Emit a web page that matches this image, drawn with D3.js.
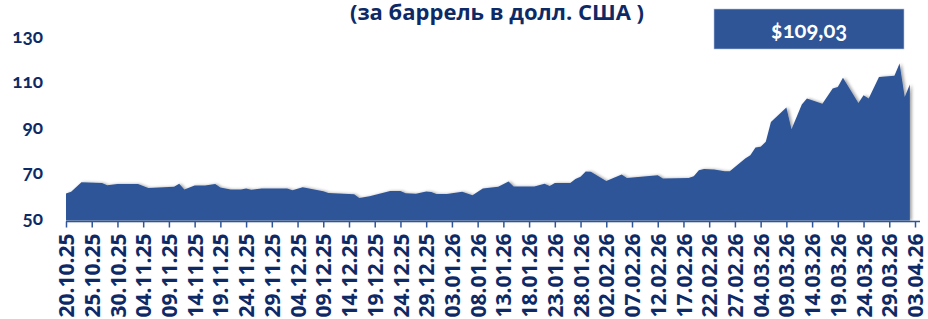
<!DOCTYPE html>
<html lang="ru">
<head>
  <meta charset="UTF-8">
  <title>Цена нефти</title>
  <script src="https://d3js.org/d3.v7.min.js"></script>
  <style>
    body { margin: 0; background: #fff; font-family: "Open Sans", Lato, sans-serif; }
    .lbl { fill: #0e2a66; font-weight: bold; }
  </style>
</head>
<body>
  <div id="chart"></div>
  <script>
    // даты торговых дней и цена (долл. за баррель)
    const dates = [
      "20.10.25","21.10.25","23.10.25","27.10.25","28.10.25","30.10.25","03.11.25","05.11.25",
      "10.11.25","11.11.25","12.11.25","14.11.25","16.11.25","18.11.25","19.11.25","21.11.25",
      "23.11.25","24.11.25","25.11.25","27.11.25","02.12.25","03.12.25","05.12.25","09.12.25",
      "10.12.25","14.12.25","15.12.25","16.12.25","18.12.25","22.12.25","24.12.25","25.12.25",
      "27.12.25","29.12.25","30.12.25","31.12.25","02.01.26","05.01.26","07.01.26","09.01.26",
      "12.01.26","14.01.26","15.01.26","19.01.26","21.01.26","22.01.26","23.01.26","26.01.26",
      "27.01.26","28.01.26","29.01.26","30.01.26","02.02.26","05.02.26","06.02.26","12.02.26",
      "13.02.26","18.02.26","19.02.26","20.02.26","21.02.26","23.02.26","25.02.26","26.02.26",
      "01.03.26","02.03.26","03.03.26","04.03.26","05.03.26","06.03.26","09.03.26","10.03.26",
      "12.03.26","13.03.26","16.03.26","18.03.26","19.03.26","20.03.26","23.03.26","24.03.26",
      "25.03.26","27.03.26","30.03.26","31.03.26","01.04.26","02.04.26"
    ];
    const prices = [
      61.9, 62.6, 66.8, 66.5, 65.5, 66.0, 66.0, 64.3,
      64.8, 66.1, 63.6, 65.4, 65.4, 66.0, 64.5, 63.6,
      63.6, 64.1, 63.5, 64.1, 64.1, 63.3, 64.6, 62.9,
      62.1, 61.6, 61.5, 59.9, 60.7, 63.0, 63.0, 62.0,
      61.8, 62.7, 62.5, 61.7, 61.7, 62.6, 61.1, 64.1,
      64.8, 67.1, 64.9, 64.9, 66.1, 65.2, 66.5, 66.5,
      68.2, 69.2, 71.5, 71.4, 67.4, 70.2, 68.7, 69.9,
      68.5, 68.7, 69.5, 72.1, 72.6, 72.4, 71.7, 71.7,
      77.2, 78.7, 82.1, 82.4, 84.6, 93.3, 99.7, 90.1,
      101.0, 103.6, 101.3, 108.0, 108.7, 112.8, 101.7, 105.1,
      103.6, 113.1, 113.6, 119.0, 104.3, 109.8
    ];
    const tickLabels = [
      "20.10.25","25.10.25","30.10.25","04.11.25","09.11.25","14.11.25","19.11.25","24.11.25",
      "29.11.25","04.12.25","09.12.25","14.12.25","19.12.25","24.12.25","29.12.25","03.01.26",
      "08.01.26","13.01.26","18.01.26","23.01.26","28.01.26","02.02.26","07.02.26","12.02.26",
      "17.02.26","22.02.26","27.02.26","04.03.26","09.03.26","14.03.26","19.03.26","24.03.26",
      "29.03.26","03.04.26"
    ];
    const yTicks = [50, 70, 90, 110, 130];
    const subtitle = "(за баррель в долл. США )";
    const lastPrice = "$109,03";

    const W = 928, H = 319;
    const parse = d3.timeParse("%d.%m.%y");
    const data = dates.map((d, i) => ({ date: parse(d), value: prices[i] }));
    const tickDates = tickLabels.map(parse);

    const svg = d3.select("#chart")
      .append("svg")
      .attr("width", W)
      .attr("height", H);

    const defs = svg.append("defs");
    const f = defs.append("filter").attr("id", "shadow")
      .attr("x", "-5%").attr("y", "-20%").attr("width", "110%").attr("height", "140%");
    f.append("feDropShadow")
      .attr("dx", 2).attr("dy", 0).attr("stdDeviation", 1.6)
      .attr("flood-color", "#000").attr("flood-opacity", 0.35);

    const x = d3.scaleTime()
      .domain([tickDates[0], tickDates[tickDates.length - 1]])
      .range([66, 915]);

    const y = d3.scaleLinear()
      .domain([50, 130])
      .range([220.5, 38.5]);

    // заголовок (верхняя строка обрезана)
    svg.append("text")
      .attr("class", "lbl")
      .attr("x", 497)
      .attr("y", 20)
      .attr("text-anchor", "middle")
      .style("font-size", "22px")
      .text(subtitle);

    // область
    const area = d3.area()
      .x(d => x(d.date))
      .y0(y(50))
      .y1(d => y(d.value));

    svg.append("path")
      .datum(data)
      .attr("d", area)
      .attr("fill", "#2f5597")
      .attr("filter", "url(#shadow)");

    // ось X
    const xAxis = svg.append("g")
      .attr("transform", `translate(0,${y(50) + 1})`)
      .call(d3.axisBottom(x)
        .tickValues(tickDates)
        .tickFormat(d3.timeFormat("%d.%m.%y"))
        .tickSize(6)
        .tickSizeOuter(0));
    xAxis.select(".domain").attr("d", `M66,0H920`).attr("stroke", "#2f5597").attr("stroke-width", 1.5);
    xAxis.selectAll(".tick line").attr("stroke", "#2f5597").attr("stroke-width", 1.5);
    xAxis.selectAll(".tick text")
      .attr("class", "lbl")
      .attr("transform", "rotate(-90)")
      .attr("x", -12)
      .attr("y", 0)
      .attr("dy", "0.36em")
      .attr("text-anchor", "end")
      .style("font-size", "21px")
      .style("font-family", "'Open Sans', sans-serif");

    // ось Y
    const yAxis = svg.append("g")
      .attr("transform", "translate(43,0)")
      .call(d3.axisLeft(y).tickValues(yTicks).tickSize(0).tickPadding(0));
    yAxis.select(".domain").remove();
    yAxis.selectAll("text")
      .attr("class", "lbl")
      .attr("dy", "0.2em")
      .style("font-size", "19px")
      .style("font-family", "Lato, 'Open Sans', sans-serif")
      .style("font-variant-numeric", "oldstyle-nums");

    // последнее значение
    svg.append("rect")
      .attr("x", 714).attr("y", 9)
      .attr("width", 190).attr("height", 40)
      .attr("fill", "#2f5597")
      .attr("stroke", "#b4c3e0").attr("stroke-width", 0.6);
    svg.append("text")
      .attr("x", 809).attr("y", 38)
      .attr("text-anchor", "middle")
      .attr("fill", "#fff")
      .style("font-weight", "bold")
      .style("font-size", "22px")
      .style("font-family", "Lato, 'Open Sans', sans-serif")
      .style("font-variant-numeric", "oldstyle-nums")
      .text(lastPrice);
  </script>
</body>
</html>
